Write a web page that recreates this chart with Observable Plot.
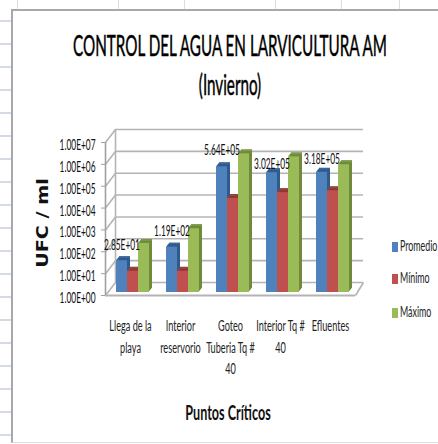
<!DOCTYPE html>
<html><head><meta charset="utf-8">
<script src="https://cdn.jsdelivr.net/npm/d3@7"></script>
<script src="https://cdn.jsdelivr.net/npm/@observablehq/plot@0.6"></script>
<style>
html,body{margin:0;padding:0;background:#fff;overflow:hidden;width:438px;height:444px}
body{position:relative;font-family:Lato,sans-serif;color:#111}
#left{position:absolute;left:0;top:0;width:11px;height:444px;background:repeating-linear-gradient(to bottom,#fff 0,#fff 21px,#d3dbe8 21px,#d3dbe8 23px);background-position:0 -1px}
#top{position:absolute;left:0;top:0;width:438px;height:9px;background:
linear-gradient(#d8dfea,#d8dfea) 17px 0/1px 100% no-repeat,linear-gradient(#d8dfea,#d8dfea) 118px 0/1px 100% no-repeat,
linear-gradient(#d8dfea,#d8dfea) 184px 0/1px 100% no-repeat,linear-gradient(#d8dfea,#d8dfea) 275px 0/1px 100% no-repeat,
linear-gradient(#d8dfea,#d8dfea) 341px 0/1px 100% no-repeat,linear-gradient(#d8dfea,#d8dfea) 399px 0/1px 100% no-repeat}
#frame{position:absolute;left:11px;top:9px;width:427px;height:434px;box-sizing:border-box;background:#fff;border-left:2px solid #a8a8a8;border-top:2px solid #a8a8a8;border-bottom:1px solid #ddd}
#wrap{position:absolute;left:0;top:0;width:438px}
#title{height:110px;box-sizing:border-box;padding-top:25px;font-size:29px;line-height:39px;color:#000;-webkit-text-stroke:.5px #000}
#title div{width:800px;margin-left:-170.5px;text-align:center;white-space:nowrap;transform:scaleX(.525)}
#xt{width:800px;margin-left:-172px;text-align:center;white-space:nowrap;font-size:21px;font-weight:700;line-height:24px;margin-top:10px;color:#111;transform:scaleX(.6)}
svg{display:block}
.lg{position:absolute;left:392px;font-size:15px;line-height:16px;white-space:nowrap;color:#222}
.lg i{display:inline-block;width:6px;height:10px;margin-right:2px;vertical-align:-1px}
.lg span{display:inline-block;transform:scaleX(.59);transform-origin:0 0}
</style></head>
<body>
<div id="left"></div><div id="top"></div><div id="frame"></div>
<div id="wrap">
<div id="title"><div>CONTROL DEL AGUA EN LARVICULTURA AM</div><div>(Invierno)</div></div>
<div id="chart"></div>
<div id="xt">Puntos Críticos</div>
</div>
<div id="legend"></div>
<script>
const categories = ["Llega de la\nplaya","Interior\nreservorio","Goteo\nTuberia Tq #\n40","Interior Tq #\n40","Efluentes"];
const promedio = [28.5, 119, 564000, 302000, 318000];
const minimo = [9.4, 9.4, 20000, 37000, 45000];
const maximo = [175, 830, 2200000, 1600000, 700000];
const decades = [1,10,100,1000,10000,100000,1000000,10000000];
const seriesNames = ["Promedio","Mínimo","Máximo"];
const seriesValues = [promedio, minimo, maximo];
const frontColors = ["#4f81bd","#c0504d","#9bbb59"];
const sideColors = ["#2f5a8c","#8c3a38","#6f8a3c"];
const topColors = ["#38689f","#a04341","#7f9b45"];
const labelTexts = ["2.85E+01","1.19E+02","5.64E+05","3.02E+05","3.18E+05"];

const depthX = 0.2, depthY = 3.92, barW = 0.22, gridC = "#b4b4b4";
const rows = seriesValues.map((vals,s)=>vals.map((v,i)=>({v,i,s,x1:i+barW*(s+1),x2:i+barW*(s+2)})));
const layers = [1,2,3,4];
const marks = [
  Plot.ruleY(decades,{x1:depthX,x2:5+depthX-0.04,dy:-13,stroke:gridC,strokeWidth:1.6}),
  Plot.ruleX([depthX],{y1:1,y2:1e7,dy:-13,stroke:gridC,strokeWidth:1.6}),
  Plot.link(decades,{x1:0,x2:depthX,y1:d=>d,y2:d=>d*depthY,stroke:gridC,strokeWidth:1.6}),
  Plot.ruleX([0],{y1:1,y2:1e7,stroke:"#a0a0a0",strokeWidth:1.6}),
  Plot.ruleY([1],{x1:0,x2:5,stroke:gridC,strokeWidth:1.8}),
  Plot.link([1],{x1:5,x2:5+depthX-0.04,y1:d=>d,y2:d=>d*depthY,stroke:gridC,strokeWidth:1.6})
];
rows.forEach((row,s)=>{
  layers.forEach(k=>{
    marks.push(Plot.rect(row,{x1:"x1",x2:"x2",y1:()=>1,y2:"v",dx:k*0.75,dy:-3-k,fill:sideColors[s]}));
    marks.push(Plot.ruleY(row,{x1:"x1",x2:"x2",y:"v",dx:k*0.75,dy:-3-k+0.5,stroke:topColors[s],strokeWidth:1.4}));
  });
  marks.push(Plot.rect(row,{x1:"x1",x2:"x2",y1:()=>1,y2:"v",dy:-3,fill:frontColors[s]}));
});
[-16,-16,-17,-9,-13].forEach((dy,i)=>{
  marks.push(Plot.text([promedio[i]],{x:i+barW*1.5,y:d=>d,text:()=>labelTexts[i],dy:dy-3,fontSize:15.5,fill:"#111"}));
});
const sci = d=>d3.format(".2e")(d).replace(/e\+(\d)$/,"E+0$1");
marks.push(Plot.axisY({ticks:decades,tickFormat:()=>"",anchor:"left",tickSize:4,stroke:"#a0a0a0",label:null}));
marks.push(Plot.axisY({ticks:decades,tickFormat:sci,anchor:"left",tickSize:0,tickPadding:10,dy:2.5,fill:"#111",label:null,fontSize:15.5}));
marks.push(Plot.axisX({ticks:[0.5,1.5,2.5,3.5,4.5],tickFormat:d=>categories[Math.floor(d)],anchor:"bottom",tickSize:0,tickPadding:20,lineHeight:1.45,label:null,fontSize:15,fill:"#222",lineAnchor:"top"}));
marks.push(Plot.text(["UFC / ml"],{frameAnchor:"left",textAnchor:"middle",text:d=>d,rotate:-90,dx:-62,dy:4,fontFamily:"DejaVu Sans",fontWeight:700,fontSize:15,fill:"#111"}));

const chart = Plot.plot({
  width:438,height:280,marginTop:32,marginBottom:95,marginLeft:105,marginRight:83,
  style:{fontFamily:'Lato,sans-serif',background:"transparent",overflow:"visible"},
  x:{type:"linear",domain:[0,5],axis:null},
  y:{type:"log",domain:[1,1e7],axis:null},
  marks
});
document.getElementById("chart").append(chart);
// The reference's labels are horizontally squeezed: narrow each label about its anchor.
d3.select(chart).selectAll("text").filter(function(){return this.getAttribute("transform");})
  .attr("transform",function(){
    const t=this.textContent, k=/UFC/.test(t)?1.28:/^\d\.\d\dE/.test(t)?0.54:0.61;
    return this.getAttribute("transform")+` scale(${k},1)`;
  });

const lg = document.getElementById("legend");
[237,269,303].forEach((top,i)=>{
  const e=document.createElement("div");e.className="lg";e.style.top=top+"px";
  e.innerHTML=`<i style="background:${frontColors[i]}"></i><span>${seriesNames[i]}</span>`;
  lg.append(e);
});
</script>
</body></html>
